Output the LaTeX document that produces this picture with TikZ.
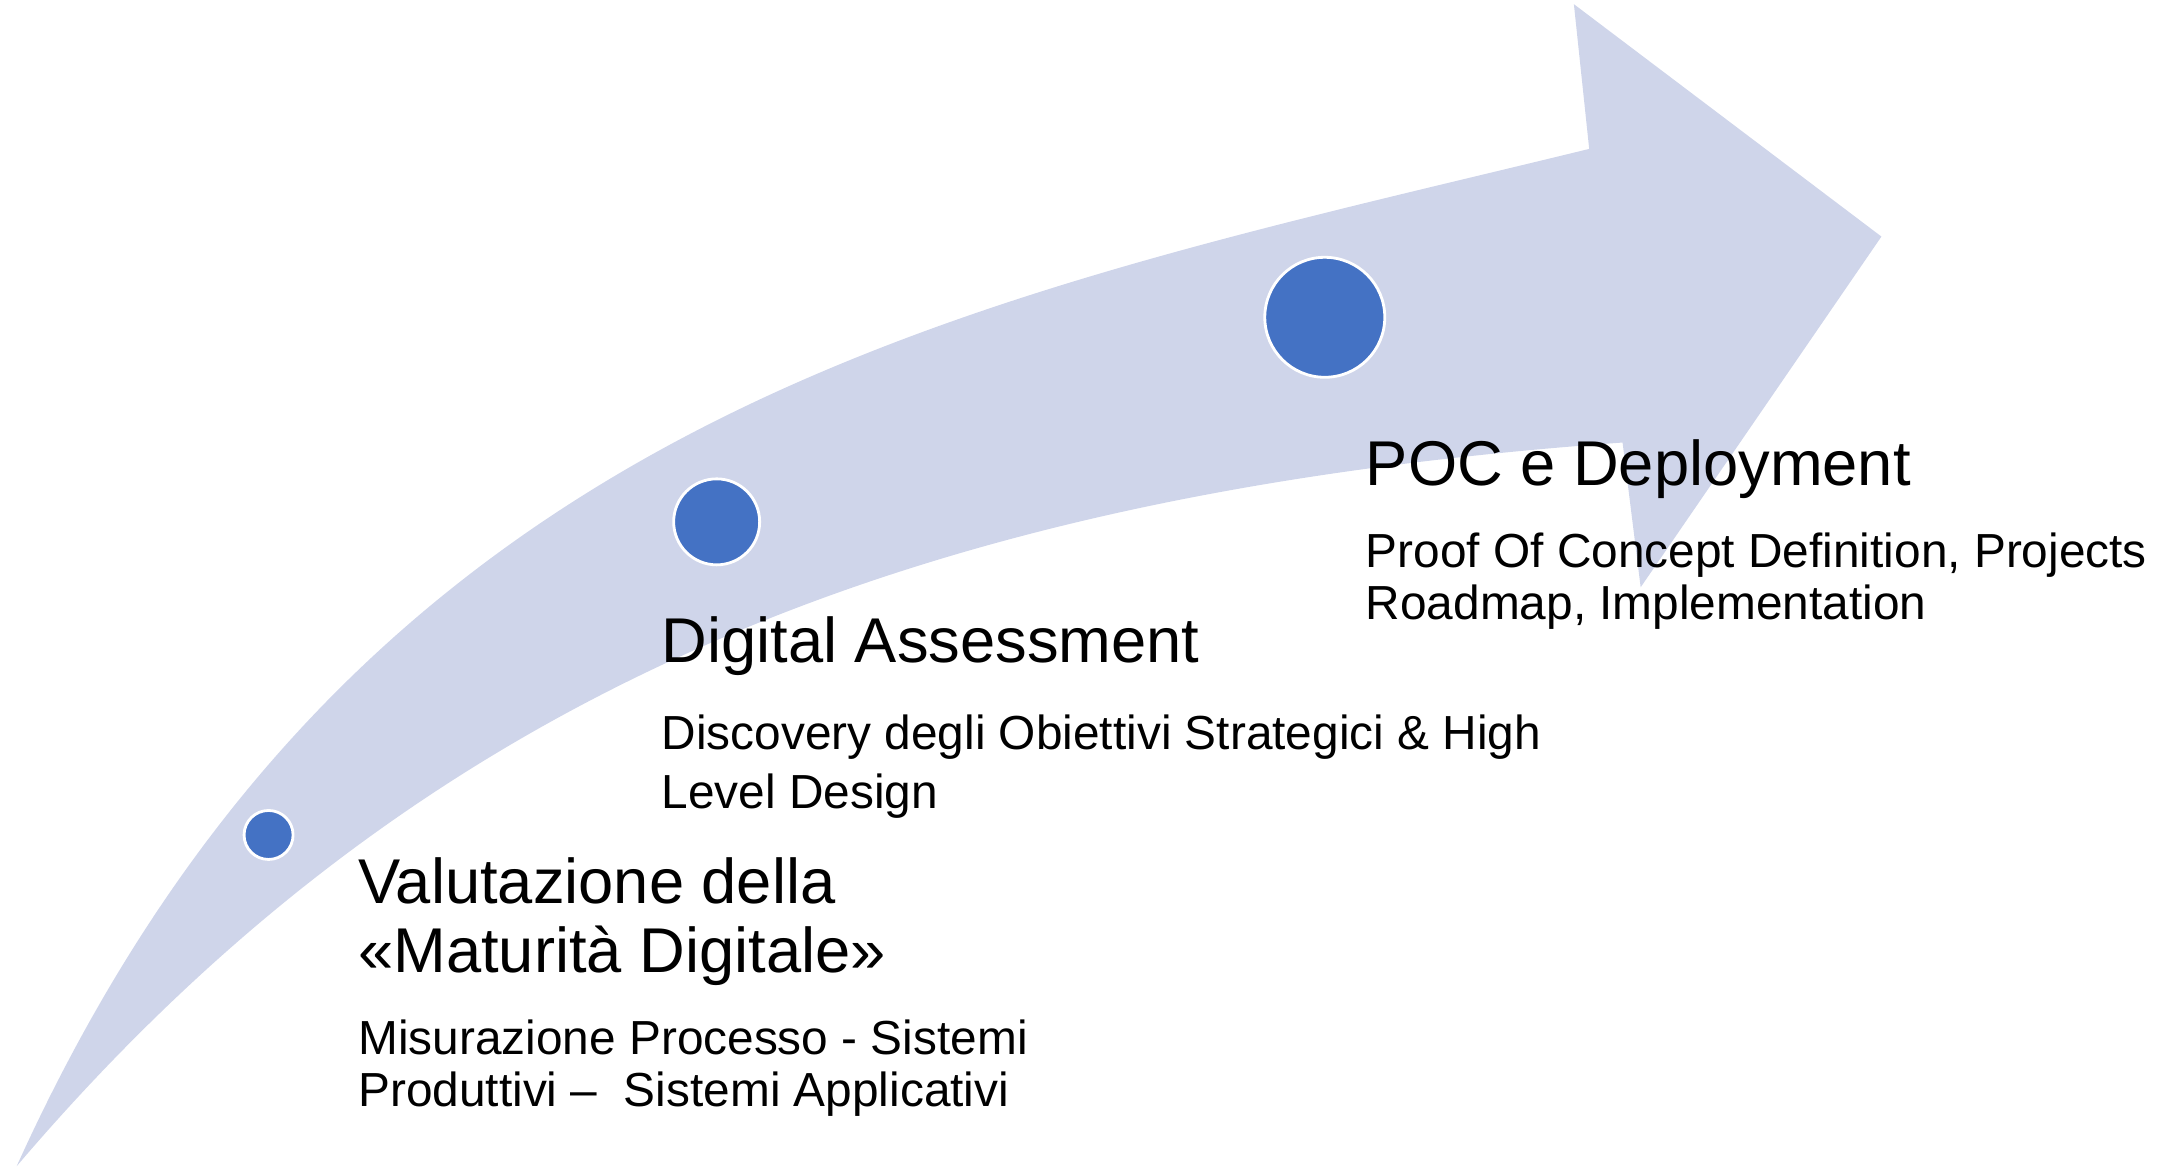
\documentclass[tikz,border=0pt]{standalone}
\usepackage{fontspec}
\setmainfont{Liberation Sans}
\tikzset{
  every picture/.style={font=\normalsize, >=stealth}}
\definecolor{bandblue}{HTML}{CFD5EA}
\definecolor{dotblue}{HTML}{4472C4}

\begin{document}
\begin{tikzpicture}[
    x=0.13916mm, y=-0.13916mm,
    stage/.style={
      circle,
      draw=white,
      line width=0.8pt,
      fill=dotblue,
      inner sep=0pt},
    heading/.style={
      anchor=base west,
      inner sep=0pt,
      align=left,
      font=\fontsize{18}{19.8}\selectfont},
    detail/.style={
      anchor=base west,
      inner sep=0pt,
      align=left,
      font=\fontsize{13.6}{14.7}\selectfont}]

    \useasboundingbox (0,0) rectangle (1568,839);

    \fill[bandblue] (12,838) .. controls (260,290) and (700,215) .. (1142,107)
      -- (1131,3) -- (1352,170) -- (1179,422) -- (1166,318)
      .. controls (650,355) and (300,500) .. (12,838) -- cycle;

    \node[stage, minimum size=4.9mm] (dotA) at (193,600) {};
    \node[stage, minimum size=8.6mm] (dotB) at (515,375) {};
    \node[stage, minimum size=12mm] (dotC) at (952,228) {};

    % base of a node with several lines = baseline of its last line
    \node[heading] (pocTitle) at (981,349) {POC e Deployment};
    \node[detail] (pocText) at (981,445) {Proof Of Concept Definition, Projects\\Roadmap, Implementation};

    \node[heading] (daTitle) at (475,476) {Digital Assessment};
    \node[detail, font=\fontsize{13.6}{16.8}\selectfont] (daText) at (475,581) {Discovery degli Obiettivi Strategici \& High\\Level Design};

    \node[heading] (vmTitle) at (257,699) {Valutazione della\\«Maturità Digitale»};
    \node[detail] (vmText) at (257,795) {Misurazione Processo - Sistemi\\Produttivi –~~Sistemi Applicativi};
  \end{tikzpicture}
\end{document}
